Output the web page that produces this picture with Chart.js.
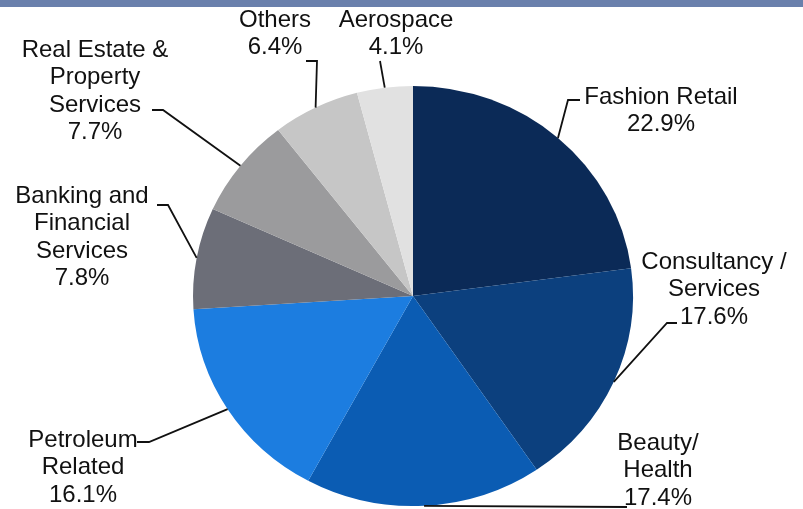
<!DOCTYPE html>
<html>
<head>
<meta charset="utf-8">
<script src="https://cdn.jsdelivr.net/npm/chart.js@4.4.1/dist/chart.umd.min.js"></script>
<style>
  html, body { margin: 0; padding: 0; background: #ffffff; }
  #wrap { position: relative; width: 803px; height: 509px; overflow: hidden; }
  #band { position: absolute; left: 0; top: 0; width: 803px; height: 7px; background: #6a80ac; z-index: 2; }
  canvas { position: absolute; left: 0; top: 0; }
</style>
</head>
<body>
<div id="wrap">
  <div id="band"></div>
  <canvas id="pie" width="803" height="509"></canvas>
</div>
<script>
// Sector split, clockwise from 12 o'clock
const categories = [
  'Fashion Retail',
  'Consultancy / Services',
  'Beauty/ Health',
  'Petroleum Related',
  'Banking and Financial Services',
  'Real Estate & Property Services',
  'Others',
  'Aerospace'
];
const shares = [22.9, 17.6, 17.4, 16.1, 7.8, 7.7, 6.4, 4.1];

// How each category name is broken over lines in its label
const labelLines = [
  ['Fashion Retail'],
  ['Consultancy /', 'Services'],
  ['Beauty/', 'Health'],
  ['Petroleum', 'Related'],
  ['Banking and', 'Financial', 'Services'],
  ['Real Estate &', 'Property', 'Services'],
  ['Others'],
  ['Aerospace']
];

const sliceColors = ['#0b2a57', '#0c407e', '#0b5cb3', '#1c7de0', '#6c6e78', '#9b9b9d', '#c6c6c6', '#e1e1e1'];

// Label placement: centre x, middle of first line, and the leader's
// path (label end, then elbow) before it runs to the slice edge.
const labelPlacement = [
  { x: 661, y: 97,  path: [[580, 100], [568, 100]] },
  { x: 714, y: 262, path: [[677, 323], [667, 323]] },
  { x: 658, y: 443, path: [[627, 507]] },
  { x: 83,  y: 440, path: [[137, 442], [149, 442]] },
  { x: 82,  y: 196, path: [[157, 205], [168, 205]] },
  { x: 95,  y: 50,  path: [[152, 110], [163, 110]] },
  { x: 275, y: 20,  path: [[306, 61], [317, 61]] },
  { x: 396, y: 20,  path: [[380, 61]] }
];

const LINE_H = 27.5;
// The pie is drawn slightly flattened: its vertical axis is squashed
// and it is re-centred at PIE_Y.
const SQUASH = 0.955;
const PIE_Y = 296;

function flatten(ctx, cy) {
  ctx.translate(0, PIE_Y);
  ctx.scale(1, SQUASH);
  ctx.translate(0, -cy);
}

const calloutPlugin = {
  id: 'callouts',
  beforeDatasetsDraw(chart) {
    const arc = chart.getDatasetMeta(0).data[0];
    chart.ctx.save();
    flatten(chart.ctx, arc.y);
  },
  afterDatasetsDraw(chart) {
    const ctx = chart.ctx;
    ctx.restore();
    const meta = chart.getDatasetMeta(0);
    ctx.save();
    ctx.strokeStyle = '#111111';
    ctx.lineWidth = 1.8;
    meta.data.forEach((arc, i) => {
      const p = arc.getProps(['x', 'y', 'startAngle', 'endAngle', 'outerRadius'], true);
      const mid = (p.startAngle + p.endAngle) / 2;
      const ex = p.x + Math.cos(mid) * p.outerRadius;
      const ey = PIE_Y + Math.sin(mid) * p.outerRadius * SQUASH;
      const place = labelPlacement[i];
      ctx.beginPath();
      ctx.moveTo(place.path[0][0], place.path[0][1]);
      for (let k = 1; k < place.path.length; k++) ctx.lineTo(place.path[k][0], place.path[k][1]);
      ctx.lineTo(ex, ey);
      ctx.stroke();
    });
    ctx.fillStyle = '#111111';
    ctx.font = '24px "Liberation Sans", Arial, sans-serif';
    ctx.textAlign = 'center';
    ctx.textBaseline = 'middle';
    shares.forEach((v, i) => {
      const lines = labelLines[i].concat([v.toFixed(1) + '%']);
      const place = labelPlacement[i];
      lines.forEach((t, k) => ctx.fillText(t, place.x, place.y + k * LINE_H));
    });
    ctx.restore();
  }
};

new Chart(document.getElementById('pie'), {
  type: 'pie',
  data: {
    labels: categories,
    datasets: [{
      data: shares,
      backgroundColor: sliceColors,
      borderWidth: 0,
      hoverOffset: 0
    }]
  },
  options: {
    responsive: false,
    animation: false,
    layout: { padding: { left: 193, right: 170, top: 30, bottom: 39 } },
    plugins: {
      legend: { display: false },
      tooltip: { enabled: false },
      title: { display: false }
    }
  },
  plugins: [calloutPlugin]
});
</script>
</body>
</html>
